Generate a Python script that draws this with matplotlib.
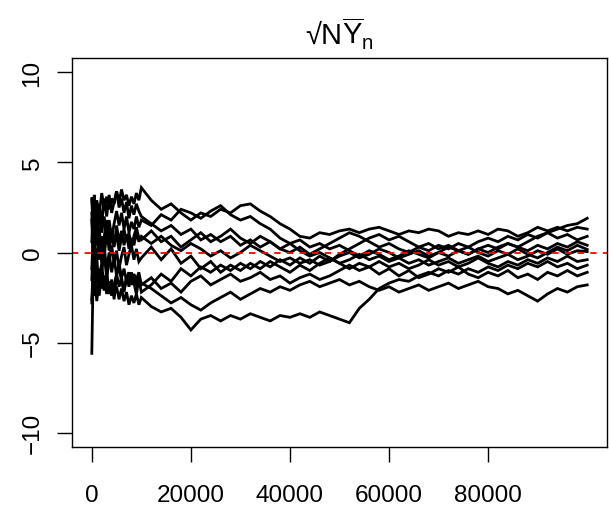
import numpy as np
import matplotlib
matplotlib.use("Agg")
import matplotlib.pyplot as plt

plt.rcParams['font.family'] = ['Liberation Sans', 'DejaVu Sans']
plt.rcParams['mathtext.fontset'] = 'custom'
plt.rcParams['mathtext.rm'] = 'Liberation Sans'
plt.rcParams['mathtext.it'] = 'Liberation Sans'

# sample positions (n)
n_early = [0, 250] + list(range(500, 10001, 500))
n_late = list(range(12000, 100001, 2000))
n_vals = n_early + n_late

# ten paths, values estimated from the chart (early part, then late part)
path_a = [-5.6, -1.5, -2.4, -0.9, -1.8, -1.2, -2.1, -1.5, -2.3, -1.7, -2.4, -1.9, -2.6, -2.0,
          -2.7, -2.2, -2.9, -2.4, -2.8, -2.3, -2.9, -2.5,
          -3.0, -3.3, -3.1, -3.6, -4.3, -3.7, -3.5, -3.8, -3.5, -3.7, -3.4, -3.6, -3.8, -3.5, -3.6,
          -3.4, -3.6, -3.3, -3.5, -3.7, -3.9, -3.1, -2.6, -2.0, -1.7, -1.5, -1.6, -1.3, -1.1, -1.3,
          -1.0, -1.2, -0.9, -1.1, -0.8, -1.0, -0.7, -0.9, -0.6, -0.8, -0.5, -0.8, -0.6, -0.9, -0.7]
path_b = [1.8, 0.6, -0.5, -1.6, -0.9, -2.0, -1.3, -2.3, -1.6, -2.4, -1.8, -1.2, -1.9, -1.4,
          -2.1, -1.5, -1.1, -1.8, -1.3, -1.9, -1.4, -1.7,
          -2.0, -2.4, -2.8, -2.5, -2.9, -3.2, -2.8, -2.5, -2.2, -2.6, -2.3, -2.0, -2.2, -1.9, -2.1,
          -1.8, -1.6, -1.9, -1.7, -1.5, -1.8, -1.6, -1.9, -2.1, -1.9, -2.2, -2.0, -1.8, -2.1, -1.9,
          -1.7, -2.0, -1.8, -1.6, -1.9, -2.0, -2.3, -2.1, -2.4, -2.7, -2.3, -2.0, -2.2, -1.9, -1.8]
path_c = [2.9, 1.4, 0.8, -0.4, 0.5, -0.6, 0.3, -0.9, 0.0, -1.1, -0.3, -1.3, -0.6, -1.4,
          -0.9, -1.6, -1.1, -1.7, -1.2, -1.5, -1.1, -1.8,
          -1.4, -2.0, -1.7, -2.2, -1.6, -1.3, -1.8, -1.5, -1.2, -1.6, -1.4, -1.1, -1.5, -1.3, -1.7,
          -1.4, -1.2, -1.5, -1.3, -1.0, -0.7, -1.0, -0.8, -1.2, -0.9, -1.3, -1.0, -1.4, -1.2, -0.9,
          -1.1, -0.8, -1.2, -1.4, -1.1, -1.3, -1.0, -1.4, -1.2, -1.5, -1.1, -1.3, -1.0, -1.3, -1.1]
path_d = [3.0, 2.2, 1.5, 2.9, 2.1, 3.3, 2.5, 3.1, 2.4, 3.0, 2.7, 3.4, 2.8, 3.5,
          2.9, 3.2, 2.6, 3.1, 2.7, 3.3, 2.9, 3.6,
          2.9, 2.4, 2.7, 2.2, 1.8, 2.2, 2.0, 2.4, 2.2, 2.6, 2.7, 2.3, 2.0, 1.6, 1.3,
          0.9, 0.8, 1.1, 1.0, 1.2, 1.3, 1.1, 1.3, 1.4, 1.2, 1.0, 1.2, 1.1, 1.3, 1.2,
          0.9, 1.1, 1.0, 1.2, 1.0, 1.3, 1.2, 0.9, 1.1, 1.4, 1.2, 1.4, 1.2, 1.4, 1.3]
path_e = [-1.5, 0.4, 1.8, 0.4, 2.3, 1.1, 2.0, 0.9, 1.8, 0.8, 1.6, 2.3, 1.5, 2.2,
          1.3, 2.0, 1.1, 1.7, 1.3, 2.0, 1.4, 1.8,
          1.5, 2.1, 1.8, 2.4, 2.2, 1.9, 2.3, 2.6, 2.1, 1.8, 2.0, 1.6, 1.3, 0.8, 0.5,
          0.7, 0.3, 0.5, 0.2, 0.4, 0.1, -0.2, 0.1, -0.1, -0.4, -0.2, 0.1, -0.1, -0.3, 0.0,
          -0.2, 0.1, -0.1, 0.2, 0.0, 0.3, 0.5, 0.3, 0.6, 0.9, 1.1, 1.3, 1.5, 1.6, 1.9]
path_f = [0.6, 2.4, 3.2, 1.3, 2.7, 1.6, 3.0, 2.0, 3.2, 2.2, 2.8, 3.4, 2.5, 3.0,
          2.2, 2.8, 1.9, 2.6, 2.1, 2.7, 2.3, 2.0,
          1.6, 1.2, 1.5, 1.0, 1.3, 0.7, 1.0, 0.6, 0.9, 0.4, 0.7, 0.3, 0.6, 0.2, 0.0,
          0.3, -0.1, 0.2, 0.5, 0.8, 1.1, 0.9, 0.6, 0.3, 0.5, 0.2, 0.0, 0.3, 0.1, 0.4,
          0.2, 0.5, 0.3, 0.6, 0.8, 0.6, 0.9, 0.7, 1.0, 0.8, 1.1, 0.8, 1.0, 0.7, 0.9]
path_g = [-2.8, -0.6, 0.3, 1.6, -0.4, 0.9, -0.3, 1.2, 0.1, 1.0, 0.3, 1.5, 0.6, 1.2,
          0.4, 1.0, 0.2, 0.8, 0.4, 1.1, 0.6, 0.9,
          0.5, 0.9, 0.4, 0.1, 0.5, 0.2, -0.2, 0.1, -0.3, 0.0, 0.4, 0.1, -0.2, -0.5, -0.3,
          -0.6, -0.4, -0.7, -0.5, -0.2, 0.0, -0.3, -0.1, 0.2, 0.0, -0.3, -0.1, 0.1, -0.2, 0.0,
          0.3, 0.1, -0.1, 0.2, 0.4, 0.2, 0.5, 0.3, 0.1, 0.4, 0.2, 0.5, 0.3, 0.6, 0.4]
path_h = [2.2, -0.4, -1.5, -0.2, -2.4, -1.0, -0.1, -1.4, -0.5, 0.4, -0.6, 0.1, -0.9, -0.2,
          0.3, -0.7, -0.1, 0.4, -0.4, 0.2, -0.5, -0.3,
          0.3, -0.4, 0.2, -0.6, -0.2, -0.9, -0.5, -1.1, -0.7, -1.0, -0.6, -0.9, -0.5, -0.8, -1.1,
          -0.7, -1.0, -0.6, -0.3, -0.6, -0.4, -0.1, -0.4, -0.2, -0.5, -0.3, -0.6, -0.4, -0.7, -0.5,
          -0.3, -0.6, -0.4, -0.2, -0.5, -0.3, -0.1, -0.4, -0.2, 0.1, -0.1, 0.2, -0.1, 0.1, 0.05]
path_i = [-0.9, 0.8, 2.0, 0.4, 1.4, -0.3, 0.9, 1.8, 0.7, 1.3, 0.4, 1.0, 0.1, 0.8,
          1.3, 0.6, 1.1, 0.3, 0.9, 1.4, 0.8, 0.7,
          1.2, 0.6, 0.9, 0.3, 0.7, 1.1, 0.6, 0.9, 1.3, 0.8, 0.5, 0.9, 0.6, 0.2, 0.5,
          0.1, -0.2, 0.0, -0.3, -0.6, -0.9, -0.6, -0.8, -0.5, -0.8, -0.6, -0.9, -0.7, -0.4, -0.7,
          -0.5, -0.8, -0.6, -0.3, -0.6, -0.8, -0.5, -0.7, -0.4, -0.6, -0.3, -0.5, -0.2, -0.5, -0.4]
path_j = [-2.6, -1.8, -1.0, -2.7, -1.4, -0.6, -2.1, -1.0, -2.3, -1.5, -2.6, -1.2, -0.8, -1.6,
          -2.2, -1.3, -1.9, -1.1, -1.7, -2.3, -1.5, -2.2,
          -1.8, -1.2, -1.6, -0.9, -1.3, -0.8, -1.1, -0.7, -1.0, -0.6, -0.9, -0.5, -0.8, -0.4, -0.7,
          -0.3, -0.6, -0.2, -0.5, -0.1, 0.2, 0.5, 0.8, 1.0, 0.7, 0.9, 0.6, 0.3, 0.5, 0.2,
          0.4, 0.1, 0.3, 0.0, -0.2, 0.1, -0.1, 0.2, -0.1, -0.3, 0.0, 0.3, 0.1, 0.4, 0.17]

paths = [path_a, path_b, path_c, path_d, path_e, path_f, path_g, path_h, path_i, path_j]

x_ticks = [0, 20000, 40000, 60000, 80000]
y_ticks = [-10, -5, 0, 5, 10]
y_labels = ['\u221210', '\u22125', '0', '5', '10']

fig = plt.figure(figsize=(6.09, 5.10), dpi=100)
ax = fig.add_axes([72 / 609, 62 / 510, 535 / 609, 389 / 510])

for p in paths:
    assert len(p) == len(n_vals), len(p)
    ax.plot(n_vals, p, color='black', lw=2.0, solid_joinstyle='miter')

ax.axhline(0, color='red', lw=1.3, linestyle=(0, (3.5, 3.5)))

ax.set_xlim(-4000, 104000)
ax.set_ylim(-10.8, 10.8)
ax.set_xticks(x_ticks)
ax.set_xticklabels([str(t) for t in x_ticks])
ax.set_yticks(y_ticks)
ax.set_yticklabels(y_labels, rotation=90, va='center')
ax.tick_params(direction='out', length=10.5, width=1.0, labelsize=17.5, pad=10)
ax.tick_params(axis='x', pad=16)
for s in ax.spines.values():
    s.set_linewidth(1.0)

ax.set_title('\u221aN' + r'$\overline{\mathrm{Y}}_{\mathrm{n}}$', fontsize=21, pad=10)

fig.savefig('out.png', dpi=100)
